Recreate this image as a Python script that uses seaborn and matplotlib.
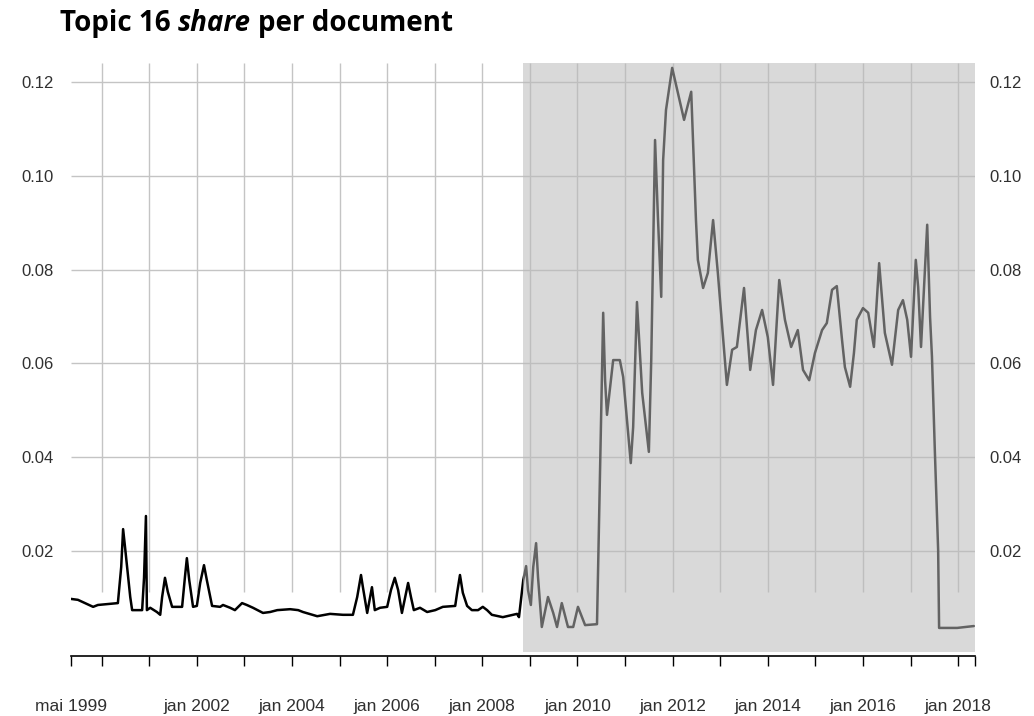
import pandas as pd
import matplotlib
matplotlib.use("Agg")
import matplotlib.pyplot as plt
import seaborn as sns

# Topic 16 share per document (decimal years)
year = [1999.35, 1999.50, 1999.82, 1999.92, 2000.34, 2000.41, 2000.45, 2000.49, 2000.60, 2000.64,
        2000.85, 2000.89, 2000.93, 2000.95, 2001.02, 2001.16, 2001.23, 2001.27, 2001.33, 2001.39,
        2001.48, 2001.69, 2001.75, 2001.79, 2001.84, 2001.92, 2002.00, 2002.07, 2002.15, 2002.21,
        2002.32, 2002.49, 2002.55, 2002.70, 2002.80, 2002.95, 2003.05, 2003.18, 2003.39, 2003.54,
        2003.69, 2003.96, 2004.13, 2004.23, 2004.53, 2004.80, 2005.07, 2005.28, 2005.37, 2005.45,
        2005.49, 2005.58, 2005.68, 2005.74, 2005.85, 2006.00, 2006.08, 2006.16, 2006.23, 2006.31,
        2006.38, 2006.44, 2006.50, 2006.56, 2006.69, 2006.84, 2007.01, 2007.17, 2007.43, 2007.47,
        2007.53, 2007.59, 2007.68, 2007.78, 2007.91, 2008.01, 2008.10, 2008.20, 2008.43, 2008.64,
        2008.73, 2008.77, 2008.86, 2008.92, 2008.96, 2009.02, 2009.07, 2009.13, 2009.17, 2009.25,
        2009.38, 2009.49, 2009.57, 2009.67, 2009.80, 2009.91, 2010.01, 2010.16, 2010.41, 2010.54,
        2010.58, 2010.62, 2010.75, 2010.89, 2010.96, 2011.12, 2011.17, 2011.25, 2011.36, 2011.50,
        2011.55, 2011.63, 2011.69, 2011.76, 2011.80, 2011.86, 2011.99, 2012.24, 2012.39, 2012.49,
        2012.53, 2012.64, 2012.74, 2012.85, 2012.95, 2013.14, 2013.25, 2013.35, 2013.50, 2013.63,
        2013.75, 2013.88, 2014.00, 2014.11, 2014.24, 2014.36, 2014.49, 2014.63, 2014.74, 2014.87,
        2014.99, 2015.14, 2015.24, 2015.35, 2015.45, 2015.56, 2015.62, 2015.73, 2015.81, 2015.87,
        2016.00, 2016.11, 2016.23, 2016.34, 2016.46, 2016.61, 2016.74, 2016.84, 2016.93, 2017.01,
        2017.11, 2017.16, 2017.22, 2017.35, 2017.41, 2017.45, 2017.51, 2017.58, 2017.60, 2017.98,
        2018.33]
share = [0.0097, 0.0095, 0.0080, 0.0084, 0.0088, 0.0165, 0.0246, 0.0208, 0.0101, 0.0073,
         0.0073, 0.0142, 0.0274, 0.0073, 0.0078, 0.0069, 0.0063, 0.0101, 0.0142, 0.0112,
         0.0080, 0.0080, 0.0144, 0.0184, 0.0137, 0.0080, 0.0082, 0.0131, 0.0169, 0.0137,
         0.0082, 0.0080, 0.0084, 0.0078, 0.0073, 0.0088, 0.0084, 0.0078, 0.0067, 0.0069,
         0.0073, 0.0075, 0.0073, 0.0069, 0.0060, 0.0065, 0.0063, 0.0063, 0.0101, 0.0148,
         0.0122, 0.0067, 0.0122, 0.0073, 0.0078, 0.0080, 0.0116, 0.0142, 0.0116, 0.0067,
         0.0101, 0.0131, 0.0101, 0.0073, 0.0078, 0.0069, 0.0073, 0.0080, 0.0082, 0.0110,
         0.0148, 0.0110, 0.0082, 0.0073, 0.0073, 0.0080, 0.0073, 0.0063, 0.0058, 0.0063,
         0.0065, 0.0058, 0.0137, 0.0167, 0.0116, 0.0084, 0.0165, 0.0216, 0.0144, 0.0037,
         0.0101, 0.0067, 0.0037, 0.0088, 0.0037, 0.0037, 0.0080, 0.0041, 0.0043, 0.0708,
         0.0564, 0.0490, 0.0607, 0.0607, 0.0571, 0.0387, 0.0464, 0.0731, 0.0537, 0.0411,
         0.0607, 0.1077, 0.0913, 0.0742, 0.1034, 0.1141, 0.1231, 0.1120, 0.1180, 0.0906,
         0.0821, 0.0761, 0.0793, 0.0906, 0.0793, 0.0554, 0.0629, 0.0635, 0.0761, 0.0586,
         0.0671, 0.0714, 0.0656, 0.0554, 0.0778, 0.0693, 0.0635, 0.0671, 0.0586, 0.0564,
         0.0622, 0.0671, 0.0686, 0.0757, 0.0765, 0.0650, 0.0592, 0.0550, 0.0622, 0.0693,
         0.0718, 0.0708, 0.0635, 0.0814, 0.0665, 0.0597, 0.0714, 0.0735, 0.0693, 0.0614,
         0.0821, 0.0763, 0.0635, 0.0896, 0.0699, 0.0614, 0.0415, 0.0201, 0.0035, 0.0035,
         0.0039]

tick_years = [1999.347] + list(range(2000, 2019)) + [2018.345]
tick_labels = ["mai 1999", "", "", "jan 2002", "", "jan 2004", "", "jan 2006", "", "jan 2008", "",
               "jan 2010", "", "jan 2012", "", "jan 2014", "", "jan 2016", "", "jan 2018", ""]
grid_years = list(range(2000, 2019))
y_ticks = [0.02, 0.04, 0.06, 0.08, 0.10, 0.12]
y_labels = ["0.02", "0.04", "0.06", "0.08", "0.10", "0.12"]
shade_from = 2008.862

sns.set_theme(style="white")
plt.rcParams["font.family"] = ["Liberation Sans", "DejaVu Sans"]

df = pd.DataFrame({"year": year, "share": share})

fig = plt.figure(figsize=(10.34, 7.16), dpi=100)
ax = fig.add_axes([0.0683, 0.0894, 0.8742, 0.8233])

x0, x1 = 1999.347, 2018.345
y0, y1 = -0.00164, 0.12425

# grid first, under everything
ax.hlines(y_ticks, x0, x1, color="#c4c4c4", lw=1.0, zorder=0)
ax.vlines(grid_years, 0.0112, y1, color="#c4c4c4", lw=1.0, zorder=0)

sns.lineplot(data=df, x="year", y="share", ax=ax, color="black", linewidth=1.8,
             estimator=None, sort=False, zorder=3)

# grey event window drawn on top, dims the line inside it
ax.axvspan(shade_from, x1, color="#b9b9b9", alpha=0.54, lw=0, zorder=5)

ax.set_xlim(x0, x1)
ax.set_ylim(y0, y1)
ax.set_xlabel("")
ax.set_ylabel("")

ax.set_xticks(tick_years)
ax.set_xticklabels(tick_labels)
ax.set_yticks(y_ticks)
ax.set_yticklabels(y_labels)

# right-hand copy of the value labels
ax2 = ax.twinx()
ax2.set_ylim(y0, y1)
ax2.set_yticks(y_ticks)
ax2.set_yticklabels(y_labels)
ax2.grid(False)
for s in ax2.spines.values():
    s.set_visible(False)
ax2.tick_params(axis="y", left=False, right=False, labelleft=False, labelright=True,
                length=0, labelsize=12, labelcolor="#303030", pad=11)

for s in ["top", "left", "right"]:
    ax.spines[s].set_visible(False)
ax.spines["bottom"].set_position(("outward", 3))
ax.spines["bottom"].set_color("black")
ax.spines["bottom"].set_linewidth(1.2)

ax.tick_params(axis="x", bottom=True, direction="out", length=7.5, width=1.0, color="black",
               labelsize=12.5, labelcolor="#303030", pad=23)
ax.tick_params(axis="y", left=False, right=False, labelleft=True, labelright=False,
               length=0, labelsize=12, labelcolor="#303030", pad=12.5)

# title with italic "share"
title_kw = dict(fontfamily="Open Sans", fontweight="bold", fontsize=20, color="black", va="baseline")
base_y = 1 - 31 / 716
t1 = fig.text(60 / 1034, base_y, "Topic 16", **title_kw)
fig.canvas.draw()
r = fig.canvas.get_renderer()
space = 7
bb = t1.get_window_extent(r)
t2 = fig.text((bb.x1 + space) / 1034, base_y, "share", fontstyle="italic", **title_kw)
bb = t2.get_window_extent(r)
fig.text((bb.x1 + space) / 1034, base_y, "per document", **title_kw)

fig.savefig("out.png", dpi=100)
